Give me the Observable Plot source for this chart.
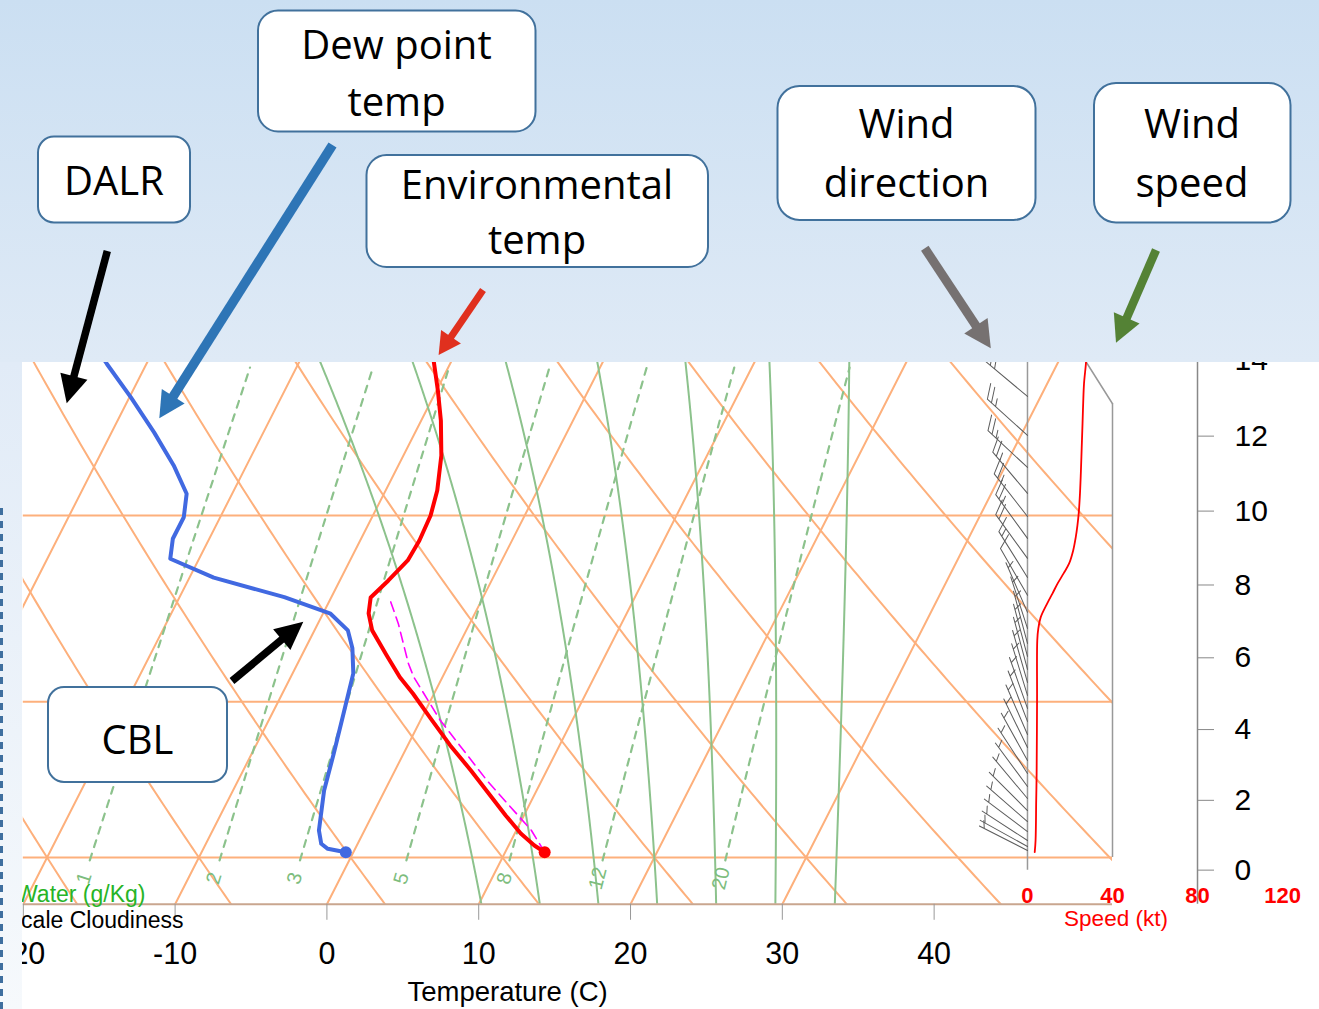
<!DOCTYPE html>
<html><head><meta charset="utf-8">
<script src="https://cdn.jsdelivr.net/npm/d3@7"></script>
<script src="https://cdn.jsdelivr.net/npm/@observablehq/plot@0.6"></script>
<style>
html,body{margin:0;padding:0;background:#fff;width:1319px;height:1009px;overflow:hidden;}
#chart{position:absolute;left:0;top:0;width:1319px;height:1009px;clip-path:inset(0 0 0 22px);}
#band{position:absolute;left:0;top:0;width:1319px;height:362px;background:linear-gradient(#cbdff2,#dfeaf6);}
#strip{position:absolute;left:0;top:362px;width:22px;height:647px;background:linear-gradient(#e1ebf7,#f6f9fc);}
#dash{position:absolute;left:0;top:508px;width:3px;height:501px;background:repeating-linear-gradient(#3f6f9f 0 7px,transparent 7px 13px);}
#ann{position:absolute;left:0;top:0;}
#ann text{font-family:"Open Sans","Noto Sans",sans-serif;font-size:40px;fill:#000;text-anchor:middle;}
</style></head><body>
<div id="chart"></div><div id="band"></div><div id="strip"></div><div id="dash"></div>
<svg id="ann" width="1319" height="1009"></svg>
<script>
// ---------- data ----------
// environmental temperature profile (hPa, °C)
const envP = [994.5, 987.6, 975.3, 957.1, 938.4, 913.2, 889.7, 865.0, 842.8, 828.7, 810.0, 789.1, 775.3, 762.5, 749.1, 733.6, 718.5, 700.0, 682.0, 657.6, 634.1, 614.6, 596.9, 583.4];
const envT = [12.6, 11.7, 10.4, 8.8, 7.2, 5.0, 2.8, 0.6, -1.4, -2.8, -4.4, -6.2, -7.0, -7.4, -6.8, -6.2, -6.1, -6.2, -6.6, -7.5, -8.7, -9.9, -11.1, -12.1];
// dew point profile
const dewP = [994.5, 991.0, 985.8, 972.2, 932.5, 897.3, 860.4, 825.3, 804.0, 789.1, 775.5, 762.2, 746.9, 732.3, 717.2, 701.3, 684.3, 664.4, 641.9, 618.9, 597.7, 583.4];
const dewT = [-0.5, -1.8, -2.4, -3.0, -4.0, -4.6, -5.3, -6.0, -6.9, -7.8, -9.5, -13.1, -18.4, -21.9, -22.4, -22.4, -23.0, -24.8, -27.2, -29.9, -32.6, -34.4];
// parcel (magenta dashed)
const parcelP = [994.5, 972.2, 922.9, 866.7, 828.4, 816.9, 783.6, 762.2];
const parcelT = [12.6, 11.0, 6.4, 1.3, -1.9, -2.7, -4.7, -6.2];
// wind barbs
const windP = [992.7, 988.6, 982.4, 973.3, 963.2, 952.2, 940.3, 928.6, 916.1, 903.8, 891.6, 879.6, 867.7, 856.0, 844.5, 833.1, 821.9, 810.8, 799.9, 787.5, 774.4, 760.8, 746.7, 732.0, 716.9, 700.7, 684.1, 665.8, 643.9, 618.3, 595.4];
const windDir = [297, 299, 303, 307, 311, 315, 320, 323.5, 327, 331, 334, 336.5, 339, 340.5, 343, 344, 345, 345, 345, 342, 336.5, 330, 328, 324, 324, 322, 320, 313, 312, 310, 309];
const windKt = [3.4, 3.8, 3.8, 3.9, 4.0, 4.0, 4.1, 4.2, 4.3, 4.3, 4.4, 4.4, 4.5, 4.5, 4.5, 4.5, 4.6, 4.6, 4.6, 5.1, 7.2, 11.0, 15.5, 20.5, 22.7, 24.0, 24.7, 25.2, 25.7, 26.4, 27.5];
// wind speed profile (red thin line)
const speedP = [994.5, 982.4, 942.3, 916.1, 848.9, 797.4, 787.5, 778.5, 767.2, 759.2, 751.4, 743.6, 735.9, 726.0, 716.2, 707.3, 698.5, 684.1, 669.9, 652.7, 635.9, 622.8, 610.0, 597.4, 583.4];
const speedKt = [3.4, 3.8, 4.1, 4.3, 4.5, 4.6, 5.1, 6.2, 9.3, 11.8, 14.2, 17.0, 19.6, 21.5, 22.7, 23.5, 24.1, 24.7, 25.1, 25.5, 25.9, 26.2, 26.6, 27.5, 28.2];
// diagram background definitions
const isotherms = [-30, -20, -10, 0, 10, 20, 30];
const dryAdiabats = [-20, -10, 0, 10, 20, 30, 40, 50, 60, 70];
const moistAdiabats = [8, 12, 16, 20, 24, 28, 32];
const mixingRatios = [1, 2, 3, 5, 8, 12, 20];
const isobars = [1000, 850, 700];
const tempTicks = [-20, -10, 0, 10, 20, 30, 40];
const heightTicks = [0, 2, 4, 6, 8, 10, 12, 14];
const speedTicks = [0, 40, 80, 120];

// ---------- geometry ----------
const SKEW = 74.0;
const sx = (T, p) => T + SKEW * Math.log10(1050 / p);
const XMIN = -20, XMAX = 51.75;
const SPEED0 = 46.15, SPEED_UNIT = (XMAX - SPEED0) / 40;
const speedX = s => SPEED0 + s * SPEED_UNIT;
const PXU = 15.18, PXD = 2208;

const orange = "#fdb07c", green = "#8cc28c";
const pGrid = d3.range(1050, 559, -5);

const isoData = isotherms.flatMap(T => [1050, 560].map(p => ({id: T, x: sx(T, p), p})));
const dryData = dryAdiabats.flatMap(th => pGrid.map(p => ({id: th, x: sx((th + 273.15) * Math.pow(p / 1000, 0.2857) - 273.15, p), p})));
function moist(T0) {
  const f = (T, p) => {
    const Tc = T - 273.15, es = 6.112 * Math.exp(17.67 * Tc / (Tc + 243.5)), rs = 0.622 * es / (p - es);
    return (287.04 * T + 2.501e6 * rs) / (p * (1005.7 + 2.501e6 * 2.501e6 * rs * 0.622 / (287.04 * T * T)));
  };
  const step = (T, p, dp) => { const k1 = f(T, p); const k2 = f(T + k1 * dp / 2, p + dp / 2); return T + k2 * dp; };
  const out = [];
  let T = T0 + 273.15;
  for (let p = 1000; p >= 560; p -= 2) { out.push({id: T0, p, x: sx(T - 273.15, p)}); T = step(T, p, -2); }
  T = T0 + 273.15;
  for (let p = 1000; p < 1050; p += 2) { T = step(T, p, 2); out.unshift({id: T0, p: p + 2, x: sx(T - 273.15, p + 2)}); }
  return out;
}
const moistData = moistAdiabats.flatMap(moist);
const mixT = (w, p) => { const e = w * p / (622 + w), l = Math.log(e / 6.112); return 243.5 * l / (17.67 - l); };
const mixPs = [...d3.range(1003, 600, -4), 600];
const mixData = mixingRatios.flatMap(w => mixPs.map(p => ({id: w, p, x: sx(mixT(w, p), p)})));
const mixLabels = mixingRatios.map(w => {
  const p1 = 1030, p2 = 1014, pl = 1022;
  const dxp = PXU * (sx(mixT(w, p2), p2) - sx(mixT(w, p1), p1));
  const dyp = PXD * Math.log10(p1 / p2);
  return {label: String(w), p: pl, x: sx(mixT(w, pl), pl), rot: -Math.atan2(dyp, dxp) * 180 / Math.PI};
});
const stdP = kft => 1013.25 * Math.pow(1 - 2.25577e-5 * kft * 304.8, 5.25588);
const heightP = heightTicks.map(stdP);
const heightLabel = new Map(heightP.map((p, i) => [p, String(heightTicks[i])]));

const env = envP.map((p, i) => ({p, x: sx(envT[i], p)}));
const dew = dewP.map((p, i) => ({p, x: sx(dewT[i], p)}));
const parcel = parcelP.map((p, i) => ({p, x: sx(parcelT[i], p)}));
const speed = speedP.map((p, i) => ({p, x: speedX(speedKt[i])}));
const winds = windP.map((p, i) => ({p, dir: windDir[i], kt: Math.round(windKt[i] / 5) * 5}));

function barbShape(kt) {
  return {draw(ctx, l) {
    ctx.moveTo(0, 0); ctx.lineTo(0, -l);
    const n10 = Math.floor(kt / 10), n5 = kt % 10 >= 5 ? 1 : 0;
    const fl = 16, sp = 5.5, s = Math.sin(Math.PI / 3), c = Math.cos(Math.PI / 3);
    let pos = -l;
    for (let i = 0; i < n10; i++) { ctx.moveTo(0, pos); ctx.lineTo(fl * s, pos - fl * c); pos += sp; }
    if (n5) { if (n10 === 0) pos += sp; ctx.moveTo(0, pos); ctx.lineTo(fl / 2 * s, pos - fl / 2 * c); }
  }};
}
const barbClasses = [...new Set(winds.map(d => d.kt))];

const font = "'Liberation Sans', Arial, Helvetica, sans-serif";
const chart = Plot.plot({
  width: 1319, height: 1009,
  marginLeft: 22.8, marginRight: 207, marginTop: 301, marginBottom: 105.21,
  x: {domain: [XMIN, XMAX], axis: null},
  y: {type: "log", domain: [1050, 560], axis: null},
  style: {fontFamily: font, background: "transparent", overflow: "visible"},
  marks: [
    Plot.ruleY(isobars, {stroke: orange, strokeWidth: 2}),
    Plot.line(isoData, {x: "x", y: "p", z: "id", stroke: orange, strokeWidth: 2, clip: true}),
    Plot.line(dryData, {x: "x", y: "p", z: "id", stroke: orange, strokeWidth: 2, clip: true}),
    Plot.line(moistData, {x: "x", y: "p", z: "id", stroke: green, strokeWidth: 2, clip: true}),
    Plot.line(mixData, {x: "x", y: "p", z: "id", stroke: green, strokeWidth: 2.2, strokeDasharray: "7,7", clip: true}),
    Plot.text(mixLabels, {x: "x", y: "p", text: "label", rotate: "rot", fill: "#7dbd7d", fontSize: 20}),
    Plot.ruleY([1050], {stroke: "#c9a68f", strokeWidth: 2}),
    Plot.axisX(tempTicks, {tickSize: 16, tickPadding: 22, fontSize: 30.5, stroke: "#999", color: "#000", label: null, tickFormat: d => String(d)}),
    Plot.text(["Water (g/Kg)"], {frameAnchor: "bottom-left", textAnchor: "end", lineAnchor: "bottom", dx: 122.2, dy: -2, fill: "#27b427", fontSize: 23}),
    Plot.text(["Scale Cloudiness"], {frameAnchor: "bottom-left", textAnchor: "end", lineAnchor: "bottom", dx: 160.2, dy: 24, fill: "#000", fontSize: 23}),
    Plot.text(["Temperature (C)"], {x: () => 11.9, frameAnchor: "bottom", lineAnchor: "bottom", dy: 97, fontSize: 27.5, fill: "#000"}),
    // wind panel frame
    Plot.ruleX([speedX(0)], {y1: 1013.25, y2: 560, stroke: "#999", strokeWidth: 1.5}),
    Plot.ruleX([XMAX], {y1: 1000, y2: 623, stroke: "#999", strokeWidth: 1.5}),
    Plot.line([{x: XMAX, p: 623}, {x: 47.5, p: 560}], {x: "x", y: "p", stroke: "#999", strokeWidth: 1.5}),
    // height axis (kft)
    Plot.ruleX([speedX(80)], {y1: 1050, y2: 560, stroke: "#888", strokeWidth: 1.5}),
    Plot.axisY(heightP, {anchor: "right", dx: 85, tickSize: 16, tickPadding: 21, fontSize: 30, stroke: "#888", color: "#000", tickFormat: p => heightLabel.get(p), label: null}),
    // speed axis
    Plot.text(speedTicks, {x: s => speedX(s), frameAnchor: "bottom", lineAnchor: "bottom", dy: -1, fill: "#f00", fontSize: 22, fontWeight: "bold", text: s => String(s)}),
    Plot.text(["Speed (kt)"], {x: () => speedX(40), frameAnchor: "bottom", lineAnchor: "bottom", dx: 3.5, dy: 21.6, fill: "#f00", fontSize: 22.5}),
    // wind barbs
    ...barbClasses.map(k => Plot.vector(winds.filter(d => d.kt === k), {x: () => SPEED0, y: "p", rotate: "dir", length: 54, anchor: "start", shape: barbShape(k), stroke: "#5c5c5c", strokeWidth: 1})),
    Plot.line(speed, {x: "x", y: "p", stroke: "#f00", strokeWidth: 1.8, curve: "catmull-rom"}),
    // profiles
    Plot.line(parcel, {x: "x", y: "p", stroke: "#ff00ff", strokeWidth: 1.6, strokeDasharray: "10,6"}),
    Plot.line(dew, {x: "x", y: "p", stroke: "#4169e1", strokeWidth: 4}),
    Plot.dot([dew[0]], {x: "x", y: "p", r: 6, fill: "#4169e1"}),
    Plot.line(env, {x: "x", y: "p", stroke: "#ff0000", strokeWidth: 4}),
    Plot.dot([env[0]], {x: "x", y: "p", r: 6, fill: "#ff0000"})
  ]
});
document.getElementById("chart").appendChild(chart);

// ---------- slide annotations ----------
function box(x, y, w, h, r) { return `<rect x="${x}" y="${y}" width="${w}" height="${h}" rx="${r}" ry="${r}" fill="#fff" stroke="#41719c" stroke-width="2"/>`; }
function txt(x, y, s) { return `<text x="${x}" y="${y}">${s}</text>`; }
function arrow(sx0, sy0, tx, ty, sw, hl, hw, col) {
  const dx = tx - sx0, dy = ty - sy0, L = Math.hypot(dx, dy), ux = dx / L, uy = dy / L;
  const bx = tx - ux * hl, by = ty - uy * hl, nx = -uy, ny = ux;
  return `<line x1="${sx0}" y1="${sy0}" x2="${bx + ux}" y2="${by + uy}" stroke="${col}" stroke-width="${sw}"/>` +
    `<polygon points="${tx},${ty} ${bx + nx * hw / 2},${by + ny * hw / 2} ${bx - nx * hw / 2},${by - ny * hw / 2}" fill="${col}"/>`;
}
document.getElementById("ann").innerHTML =
  box(38, 136.5, 152, 86, 16) + txt(114, 195, "DALR") +
  box(258, 10.5, 277.5, 121, 20) + txt(396.5, 59, "Dew point") + txt(396.5, 116, "temp") +
  box(366.5, 155, 341.5, 112, 20) + txt(537, 199, "Environmental") + txt(537, 254, "temp") +
  box(777.5, 86, 258, 134, 22) + txt(906.5, 138, "Wind") + txt(906.5, 197, "direction") +
  box(1094, 83, 196.5, 139.5, 22) + txt(1192, 138, "Wind") + txt(1192, 197, "speed") +
  box(48, 687, 179, 95, 16) + txt(137.5, 754, "CBL") +
  arrow(107.3, 251, 66.7, 403.3, 7.5, 28, 28, "#000") +
  arrow(332.5, 145, 159.3, 418.3, 9.5, 26, 27, "#2e75b6") +
  arrow(483, 290, 438.6, 355, 7, 22, 24, "#e0301e") +
  arrow(924.8, 248.3, 990.8, 348.3, 9, 27, 28, "#767171") +
  arrow(1156, 250, 1116, 342.7, 8.5, 27, 28, "#548235") +
  arrow(232, 681, 303.3, 621.7, 7.5, 28, 27, "#000");
</script>
</body></html>
